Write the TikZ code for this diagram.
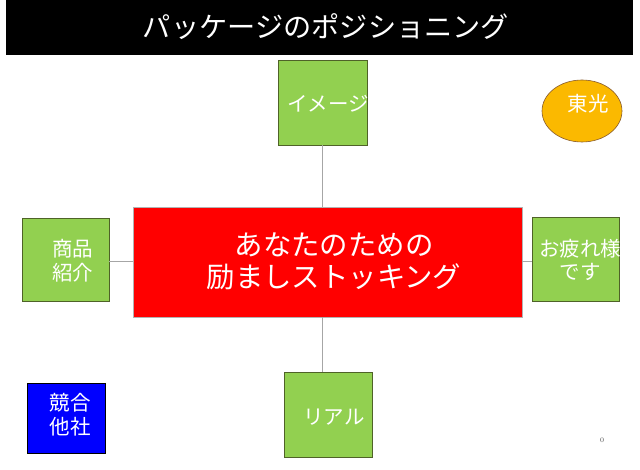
\documentclass[tikz,border=0pt]{standalone}
\usepackage{fontspec}
\usetikzlibrary{shapes.geometric}
\newfontfamily\jp{Noto Sans CJK JP}
\definecolor{gbox}{HTML}{92D050}
\definecolor{gedge}{HTML}{4F6228}
\definecolor{orng}{HTML}{FBB900}
\begin{document}
\begin{tikzpicture}[x=1pt,y=-1pt,
  greenbox/.style={draw=gedge,line width=0.6pt,fill=gbox,minimum width=89pt,minimum height=85pt,inner sep=0pt},
  wtext/.style={text=white,font=\jp\fontsize{20.5}{24}\selectfont,align=center,inner sep=0pt},
  link/.style={draw=gray!70,line width=1pt}]
\useasboundingbox[fill=white] (0,0) rectangle (640,470);
\node[fill=black,minimum width=627pt,minimum height=55pt,inner sep=0pt,anchor=north west] (title) at (6,0) {};
\node[text=white,font=\jp\fontsize{28.2}{33}\selectfont,inner sep=0pt] (ttext) at (326,27) {パッケージのポジショニング};
% central box
\node[fill=red,draw=gray!60,line width=0.6pt,minimum width=389pt,minimum height=110pt,inner sep=0pt] (main) at (327.5,262) {};
\node[text=white,font=\jp\fontsize{28.4}{32}\selectfont,align=center,inner sep=0pt] (mtext) at (334,261) {あなたのための\\励ましストッキング};
% boxes
\node[greenbox,minimum width=89pt] (top) at (322.5,102.5) {};
\node[greenbox,minimum width=87pt,minimum height=84pt] (right) at (575.5,259) {};
\node[greenbox,minimum width=87pt,minimum height=83pt] (left) at (65.5,259.5) {};
\node[greenbox,minimum width=88pt,minimum height=85pt] (bottom) at (328,414.5) {};
\node[draw=black,line width=0.6pt,fill=blue,minimum width=78pt,minimum height=70pt,inner sep=0pt] (comp) at (66,418) {};
\node[ellipse,draw=brown!70!black,line width=0.6pt,fill=orng,minimum width=80pt,minimum height=62pt,inner sep=0pt] (toko) at (582,111) {};
% links
\draw[link] (top.south) -- (top.south |- main.north);
\draw[link] (top.south |- main.south) -- (top.south |- bottom.north);
\draw[link] (left.east |- main.east) -- (main.west);
\draw[link] (main.east) -- (right.west |- main.east);
% texts
\begin{scope}
\clip (top.south west) rectangle (top.north east);
\node[wtext,anchor=west] (ttop) at (287,104) {イメージ};
\end{scope}
\begin{scope}
\clip (right.south west) rectangle (right.north east);
\node[wtext,anchor=west] (tr1) at (539,249) {お疲れ様};
\end{scope}
\node[wtext] (tr2) at (580,272) {です};
\node[wtext] (tl) at (72.5,261) {商品\\紹介};
\node[wtext] (tb) at (334,417) {リアル};
\node[wtext] (tc) at (70,415) {競合\\他社};
\node[wtext] (tt) at (588,104) {東光};
\node[text=gray!60!black,font=\fontsize{7}{8}\selectfont,inner sep=0pt] (pg) at (602,440) {0};
\end{tikzpicture}
\end{document}
